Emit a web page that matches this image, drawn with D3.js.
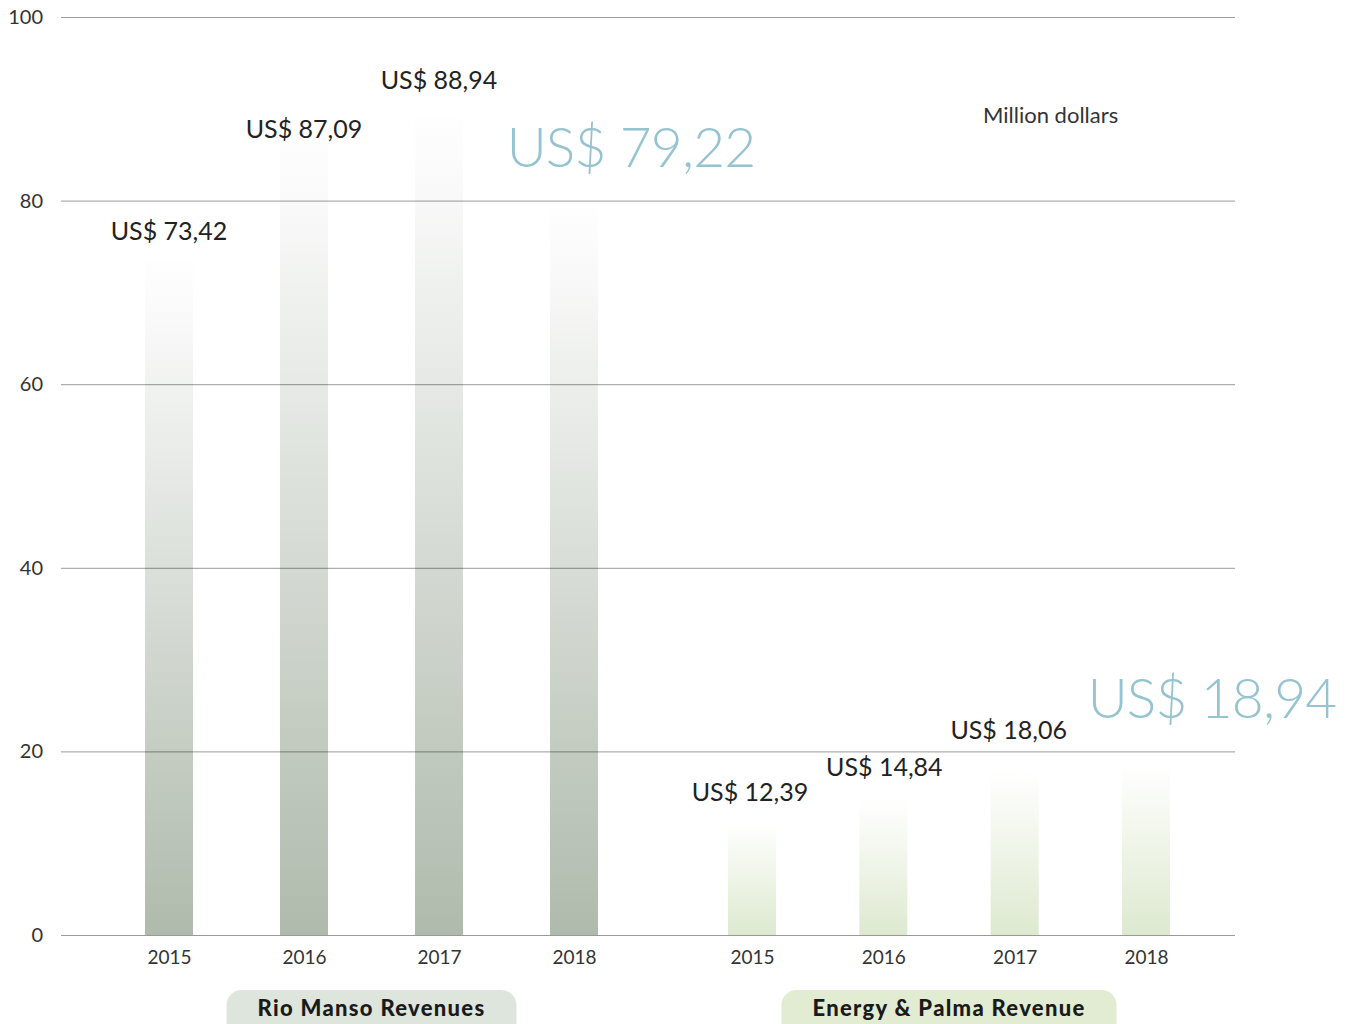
<!DOCTYPE html>
<html>
<head>
<meta charset="utf-8">
<script src="https://cdn.jsdelivr.net/npm/d3@7"></script>
<style>
  body { margin: 0; background: #fff; }
  svg { display: block; }
  text { font-family: Lato, "Noto Sans", sans-serif; }
</style>
</head>
<body>
<svg id="chart" width="1353" height="1024"></svg>
<script>
// Revenue by year, in million dollars
const years = ["2015", "2016", "2017", "2018"];
const rioManso = [73.42, 87.09, 88.94, 79.22];
const energyPalma = [12.39, 14.84, 18.06, 18.94];
const groupNames = ["Rio Manso Revenues", "Energy & Palma Revenue"];
const yTicks = [0, 20, 40, 60, 80, 100];
const unitLabel = "Million dollars";

const svg = d3.select("#chart");

const y = d3.scaleLinear().domain([0, 100]).range([935, 17]);
const gridLeft = 61, gridRight = 1235;
const barW = 48;

const groups = [
  { name: groupNames[0], values: rioManso,
    x: d3.scalePoint().domain(years).range([169, 574]),
    grad: ["#fefefe", "#afbaac"], pill: "#dde5dd",
    // label placement relative to the bar top: [dx, dy]
    nudge: [[0, -21], [0, 2], [0, -30], [57, -41]] },
  { name: groupNames[1], values: energyPalma,
    x: d3.scalePoint().domain(years).range([752, 1146]),
    grad: ["#ffffff", "#dde9cf"], pill: "#e2ecd3",
    nudge: [[-2, -20], [1, -23], [-6, -30], [66, -43]] }
];

const locale = d3.formatLocale({ decimal: ",", thousands: ".", grouping: [3], currency: ["US$ ", ""] });
const fmt = v => "US$ " + locale.format(".2f")(v);

// Vertical fade gradients, one per group
const defs = svg.append("defs");
groups.forEach((g, i) => {
  const lg = defs.append("linearGradient")
    .attr("id", "fade" + i).attr("x1", 0).attr("y1", 0).attr("x2", 0).attr("y2", 1);
  lg.append("stop").attr("offset", 0).attr("stop-color", g.grad[0]);
  lg.append("stop").attr("offset", 0.06).attr("stop-color", d3.interpolateRgb(g.grad[0], g.grad[1])(0.04));
  lg.append("stop").attr("offset", 1).attr("stop-color", g.grad[1]);
});

// Bars
groups.forEach((g, i) => {
  svg.append("g").selectAll("rect")
    .data(years.map((yr, j) => ({ yr, v: g.values[j] })))
    .join("rect")
    .attr("x", d => g.x(d.yr) - barW / 2)
    .attr("y", d => y(d.v))
    .attr("width", barW)
    .attr("height", d => y(0) - y(d.v))
    .attr("fill", `url(#fade${i})`);
});

// Gridlines over the bars (translucent so they darken where they cross)
const yAxis = d3.axisLeft(y).tickValues(yTicks).tickSize(-(gridRight - gridLeft)).tickPadding(18);
const ya = svg.append("g").attr("transform", `translate(${gridLeft},0)`).call(yAxis);
ya.select(".domain").remove();
ya.selectAll(".tick line").attr("stroke", "#000").attr("stroke-opacity", 0.4).attr("stroke-width", 1);
ya.selectAll(".tick text")
  .attr("font-size", 20).attr("fill", "#333")
  .attr("font-family", "Lato, 'Noto Sans', sans-serif");

// Year axis per group
groups.forEach(g => {
  const xa = svg.append("g").attr("transform", `translate(0,${y(0)})`)
    .call(d3.axisBottom(g.x).tickSize(0).tickPadding(16));
  xa.select(".domain").remove();
  xa.selectAll(".tick text")
    .attr("font-size", 19).attr("fill", "#333")
    .attr("font-family", "Lato, 'Noto Sans', sans-serif");
});

// Value labels; the latest year is called out in large blue type
groups.forEach(g => {
  years.forEach((yr, j) => {
    const v = g.values[j];
    const big = j === years.length - 1;
    svg.append("text")
      .attr("x", g.x(yr) + g.nudge[j][0])
      .attr("y", y(v) + g.nudge[j][1])
      .attr("text-anchor", "middle")
      .attr("font-size", big ? 55 : 25)
      .attr("font-weight", big ? 300 : 400)
      .attr("letter-spacing", big ? -0.8 : 0)
      .attr("fill", big ? "#95c3d0" : "#222")
      .text(fmt(v));
  });
});

// Unit note
svg.append("text")
  .attr("x", 983).attr("y", 123)
  .attr("font-size", 22).attr("fill", "#333")
  .text(unitLabel);

// Group legend pills under the axis
groups.forEach(g => {
  const [a, b] = g.x.range();
  const cx = (a + b) / 2;
  const pg = svg.append("g");
  const rect = pg.append("rect").attr("fill", g.pill);
  const t = pg.append("text")
    .attr("x", cx).attr("y", 1016)
    .attr("text-anchor", "middle")
    .attr("font-size", 22).attr("font-weight", 900)
    .attr("letter-spacing", 1.3)
    .attr("fill", "#1a1a1a")
    .text(g.name);
  const bb = t.node().getBBox();
  rect.attr("x", bb.x - 31).attr("y", 990)
    .attr("width", bb.width + 62).attr("height", 50)
    .attr("rx", 15);
});
</script>
</body>
</html>
